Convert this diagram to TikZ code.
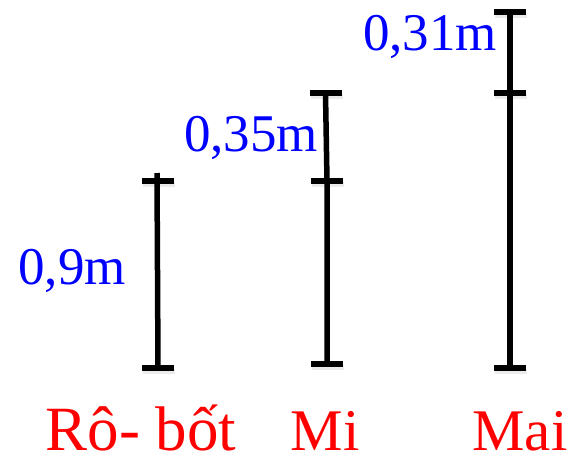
\documentclass[tikz,border=0pt]{standalone}
\usepackage{fontspec}
\setmainfont{Liberation Serif}
\begin{document}
\begin{tikzpicture}[x=1pt,y=-1pt,
  bar/.style={line width=5.5pt},
  shade/.style={line width=5pt,black!8},
  len/.style={text=blue,font=\fontsize{53}{60}\selectfont,inner sep=0pt,anchor=base},
  who/.style={text=red,font=\fontsize{59}{66}\selectfont,inner sep=0pt,anchor=base}]
\useasboundingbox (0,0) rectangle (569,461);
% tick points
\coordinate (r0) at (158,368); \coordinate (r1) at (158,181); \coordinate (rt) at (157,173);
\coordinate (m0) at (327,364); \coordinate (m1) at (327,181); \coordinate (m2) at (325.5,93);
\coordinate (a0) at (510,368); \coordinate (a1) at (510,93); \coordinate (a2) at (510,12);
\foreach \c in {r0,r1,m0,m1,m2,a0,a1,a2} { \draw[shade] ([xshift=-15pt,yshift=-3pt]\c) -- ([xshift=17pt,yshift=-3pt]\c); }
\draw[bar] (rt) -- (r0);
\draw[bar] (m2) -- (m1) -- (m0);
\draw[bar] (a2) -- (a0);
\foreach \c in {r0,r1,m0,m1,m2,a0,a1,a2} { \draw[bar] ([xshift=-16pt]\c) -- ([xshift=16pt]\c); }
% lengths
\node[len] (l9) at (72,284) {0,9m};
\node[len] (l35) at (251,151) {0,35m};
\node[len] (l31) at (430,50) {0,31m};
% names
\node[who,font=\fontsize{63}{70}\selectfont] (robot) at (141,450) {Rô- bốt};
\node[who] (mi) at (325,450) {Mi};
\node[who] (mai) at (520,450) {Mai};
\end{tikzpicture}
\end{document}
